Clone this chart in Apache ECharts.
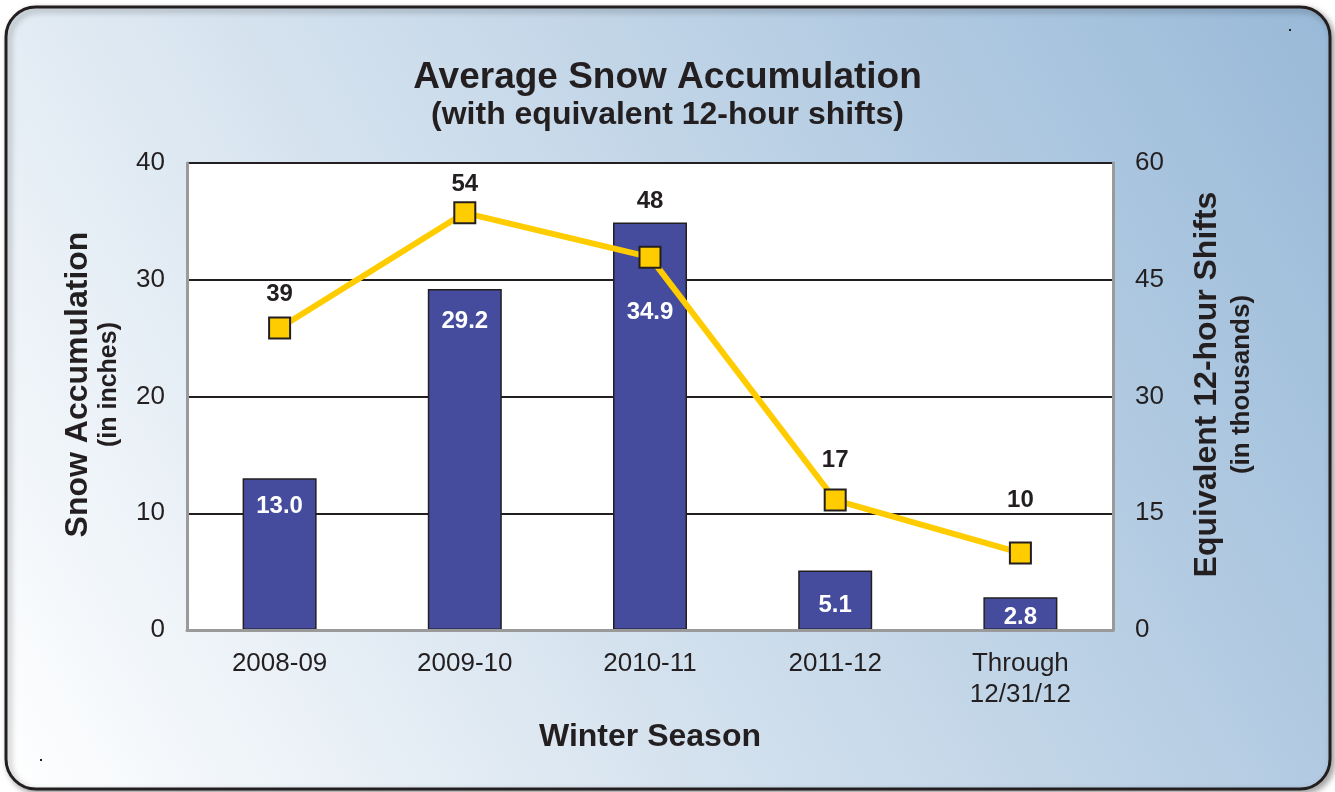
<!DOCTYPE html>
<html>
<head>
<meta charset="utf-8">
<style>
  html, body { margin: 0; padding: 0; background: #ffffff; }
  #chart { width: 1335px; height: 792px; }
</style>
<script src="https://cdn.jsdelivr.net/npm/echarts@6/dist/echarts.min.js"></script>
</head>
<body>
<div id="chart"></div>
<script>
// ---- data ----
const categories = ['2008-09', '2009-10', '2010-11', '2011-12', 'Through\n12/31/12'];
const snowInches = [13.0, 29.2, 34.9, 5.1, 2.8];
const shiftsThousands = [38.8, 53.6, 47.9, 16.7, 9.9];
const leftAxisRange = [0, 40, 10];
const rightAxisRange = [0, 60, 15];

// ---- chart ----
const FONT = "'Liberation Sans', Arial, Helvetica, sans-serif";
const INK = '#231f20';
const chart = echarts.init(document.getElementById('chart'), null, { renderer: 'canvas' });

const barLabelDistance = [16, 20, 78, 23, 8];
const lineLabelDistance = [10, 5, 32, 16, 29];

const option = {
  backgroundColor: '#ffffff',
  textStyle: { fontFamily: FONT, color: INK },
  graphic: [
    {
      type: 'rect', z: -10, silent: true,
      shape: { x: 6, y: 7, width: 1324, height: 782, r: 30 },
      style: {
        fill: new echarts.graphic.LinearGradient(0, 1, 1, 0, [
          { offset: 0, color: '#ffffff' },
          { offset: 0.38, color: '#d6e3ef' },
          { offset: 1, color: '#98b9d8' }
        ]),
        stroke: INK, lineWidth: 3,
        shadowBlur: 6, shadowOffsetX: 3, shadowOffsetY: 3, shadowColor: 'rgba(0,0,0,0.35)'
      }
    },
    { type: 'rect', z: -5, silent: true, shape: { x: 1289, y: 29, width: 2, height: 2 }, style: { fill: INK } },
    { type: 'rect', z: -5, silent: true, shape: { x: 40, y: 759, width: 2, height: 2 }, style: { fill: INK } }
  ],
  title: {
    text: 'Average Snow Accumulation',
    subtext: '(with equivalent 12-hour shifts)',
    left: 'center',
    top: 54,
    itemGap: 3,
    textStyle: { fontFamily: FONT, fontSize: 37, fontWeight: 'bold', color: INK },
    subtextStyle: { fontFamily: FONT, fontSize: 32, fontWeight: 'bold', color: INK }
  },
  grid: {
    left: 187, right: 222, top: 163, bottom: 162,
    show: true, backgroundColor: '#ffffff', borderWidth: 0
  },
  xAxis: {
    type: 'category',
    data: categories,
    name: 'Winter Season',
    nameLocation: 'middle',
    nameGap: 91,
    nameTextStyle: { fontFamily: FONT, fontSize: 32, fontWeight: 'bold', color: INK },
    axisLine: { show: true, lineStyle: { color: '#9a9a9a', width: 3 } },
    axisTick: { show: false },
    axisLabel: { fontFamily: FONT, fontSize: 26, lineHeight: 31, color: INK, margin: 18 },
    z: 5
  },
  yAxis: [
    {
      type: 'value',
      min: leftAxisRange[0], max: leftAxisRange[1], interval: leftAxisRange[2],
      name: '{a|Snow Accumulation}\n{b|(in inches)}',
      nameLocation: 'middle',
      nameRotate: 90,
      nameGap: 63,
      nameTextStyle: {
        color: INK,
        padding: [0, 0, 0, 24],
        rich: {
          a: { fontFamily: FONT, fontSize: 32, fontWeight: 'bold', lineHeight: 32, color: INK },
          b: { fontFamily: FONT, fontSize: 25, fontWeight: 'bold', lineHeight: 30, color: INK }
        }
      },
      axisLine: { show: true, lineStyle: { color: '#9a9a9a', width: 3 } },
      axisTick: { show: false },
      axisLabel: { fontFamily: FONT, fontSize: 26, color: INK, margin: 22 },
      splitLine: { show: true, lineStyle: { color: INK, width: 2 } }
    },
    {
      type: 'value',
      min: rightAxisRange[0], max: rightAxisRange[1], interval: rightAxisRange[2],
      name: '{a|Equivalent 12-hour Shifts}\n{b|(in thousands)}',
      nameLocation: 'middle',
      nameRotate: 90,
      nameGap: 76,
      nameTextStyle: {
        color: INK,
        padding: [0, 0, 0, 24],
        rich: {
          a: { fontFamily: FONT, fontSize: 32, fontWeight: 'bold', lineHeight: 36, color: INK },
          b: { fontFamily: FONT, fontSize: 26, fontWeight: 'bold', lineHeight: 34, color: INK }
        }
      },
      axisLine: { show: true, lineStyle: { color: '#9a9a9a', width: 3 } },
      axisTick: { show: false },
      axisLabel: { fontFamily: FONT, fontSize: 26, color: INK, margin: 22 },
      splitLine: { show: false }
    }
  ],
  series: [
    {
      name: 'Snow Accumulation',
      type: 'bar',
      yAxisIndex: 0,
      barWidth: 74,
      data: snowInches.map((v, i) => ({ value: v, label: { distance: barLabelDistance[i] } })),
      itemStyle: { color: '#454c9e', borderColor: INK, borderWidth: 1.5 },
      label: {
        show: true,
        position: 'insideTop',
        fontFamily: FONT, fontSize: 24, fontWeight: 'bold', color: '#ffffff',
        formatter: p => p.value.toFixed(1)
      },
      z: 3
    },
    {
      name: 'Equivalent 12-hour Shifts',
      type: 'line',
      yAxisIndex: 1,
      data: shiftsThousands.map((v, i) => ({ value: v, label: { distance: lineLabelDistance[i] } })),
      lineStyle: { color: '#ffcc00', width: 6 },
      symbol: 'rect',
      symbolSize: 21,
      itemStyle: { color: '#ffcc00', borderColor: INK, borderWidth: 2 },
      label: {
        show: true,
        position: 'top',
        fontFamily: FONT, fontSize: 24, fontWeight: 'bold', color: INK,
        formatter: p => String(Math.round(p.value))
      },
      z: 4
    }
  ],
  animation: false
};

chart.setOption(option);
</script>
</body>
</html>
